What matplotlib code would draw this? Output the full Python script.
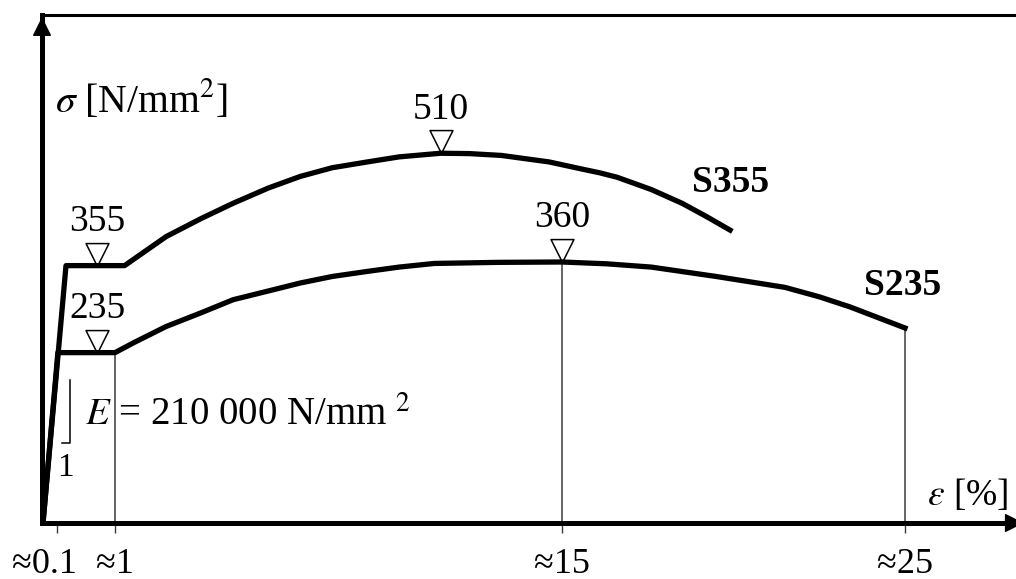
"""Stress-strain diagram for structural steels S235 and S355."""

import matplotlib.pyplot as plt
import numpy as np

plt.rcParams["font.family"] = ["Liberation Serif", "DejaVu Serif"]
plt.rcParams["mathtext.fontset"] = "stix"

# curve readings: strain in %, stress in N/mm2
S355_STRAIN = [0.0, 0.17, 1.3, 2.6, 3.7, 4.7, 5.8, 6.8, 7.8, 8.9, 9.9, 11.2,
               12.1, 13.1, 14.6, 15.6, 16.1, 16.6, 17.6, 18.5, 19.2, 19.9]
S355_STRESS = [0, 355, 355, 395, 420, 441, 462, 478, 490, 498, 505, 510,
               509.5, 507, 498, 488, 483, 477, 460, 441, 423, 404]

S235_STRAIN = [0.0, 0.11, 1.0, 1.6, 2.6, 3.7, 4.7, 5.8, 6.8, 7.8, 8.9, 9.9,
               11.0, 13.0, 15.0, 16.3, 17.6, 19.5, 21.5, 22.5, 23.4, 25.0]
S235_STRESS = [0, 235, 235, 249, 271, 290, 308, 320, 331, 340, 347, 353,
               358, 359.5, 360, 357.5, 353, 340, 325, 312, 298, 269]

# marked values (yield and tensile strength)
MARK_STRAIN = [0.7, 0.7, 11.2, 15.0]
MARK_STRESS = [355, 235, 510, 360]
MARK_LABELS = ["355", "235", "510", "360"]

# x ticks and the guide lines dropped from the S235 curve
TICK_STRAIN = [0.1, 1, 15, 25]
TICK_LABELS = ["≈0.1", "≈1", "≈15", "≈25"]
GUIDE_STRAIN = [1, 15, 25]

# schematic strain axis: elastic part stretched, rest roughly linear
STRAIN_NODES = [-1.0, 0.0, 0.17, 1.0, 15.0, 25.0, 40.0]
SCALE_NODES = [-92.0, 43.0, 66.0, 115.0, 562.0, 905.0, 1419.5]


def forward(x):
    return np.interp(x, STRAIN_NODES, SCALE_NODES)


def inverse(u):
    return np.interp(u, SCALE_NODES, STRAIN_NODES)


def main() -> None:
    fig = plt.figure(figsize=(10.16, 5.79), dpi=100)
    ax = fig.add_axes([42 / 1016, 56 / 579, 974 / 1016, 508 / 579])
    ax.set_xscale("function", functions=(forward, inverse))
    ax.set_xlim(inverse(42), inverse(1016))
    ax.set_ylim(0, 508 / 0.725)

    # curves
    ax.plot(S355_STRAIN, S355_STRESS, color="black", lw=3.8, zorder=3,
            solid_joinstyle="round")
    ax.plot(S235_STRAIN, S235_STRESS, color="black", lw=3.8, zorder=3,
            solid_joinstyle="round")

    # guide lines
    guide_stress = np.interp(GUIDE_STRAIN, S235_STRAIN, S235_STRESS)
    ax.vlines(GUIDE_STRAIN, 0, guide_stress, color="#3a3a3a", lw=1.1, zorder=2)

    # open triangles with their values
    tri = [(0, 0), (-0.5, 1), (0.5, 1), (0, 0)]
    ax.plot(MARK_STRAIN, MARK_STRESS, linestyle="none", marker=tri,
            markersize=33, markerfacecolor="white", markeredgecolor="black",
            markeredgewidth=1.1, zorder=2)
    for s, v, lab in zip(MARK_STRAIN, MARK_STRESS, MARK_LABELS):
        ax.annotate(lab, xy=(s, v), xytext=(0, 25), textcoords="offset points",
                    ha="center", va="baseline", fontsize=27)

    # slope mark for the elastic modulus
    ax.plot([0.14, 0.24, 0.24], [110, 110, 197], color="black", lw=1.1)
    ax.text(0.165, 76, "1", ha="center", va="center", fontsize=24)
    ax.text(0.49, 135, r"$E$ = 210 000 N/mm $^2$", fontsize=28, va="baseline")

    # steel grades
    ax.text(18.8, 456, "S355", fontsize=27, fontweight="bold", va="baseline")
    ax.text(23.8, 314, "S235", fontsize=27, fontweight="bold", va="baseline")

    # axis titles
    ax.text(0.0133, 0.809, r"$\sigma$ [N/mm$^2$]", transform=ax.transAxes,
            fontsize=28.5, va="baseline")
    ax.text(0.992, 0.035, r"$\varepsilon$ [%]", transform=ax.transAxes,
            fontsize=27, ha="right", va="baseline")

    # axes frame
    ax.spines["right"].set_visible(False)
    ax.spines["top"].set_linewidth(2.2)
    ax.spines["left"].set_linewidth(3.6)
    ax.spines["bottom"].set_linewidth(3.6)
    ax.set_yticks([])
    ax.xaxis.set_minor_locator(plt.NullLocator())
    ax.set_xticks(TICK_STRAIN, labels=[""] + TICK_LABELS[1:])
    ax.tick_params(axis="x", direction="out", length=7, width=1.0, pad=11,
                   labelsize=26, color="#3a3a3a")
    ax.annotate(TICK_LABELS[0], xy=(TICK_STRAIN[0], 0),
                xycoords=("data", "axes fraction"), xytext=(-9, -18),
                textcoords="offset points", ha="center", va="top",
                fontsize=26, annotation_clip=False)

    arrow = dict(arrowstyle="-|>", color="black", lw=1.0, mutation_scale=30,
                 shrinkA=0, shrinkB=0)
    ax.annotate("", xy=(0, 0.996), xycoords="axes fraction",
                xytext=(0, 0.9), arrowprops=arrow)
    ax.annotate("", xy=(1.008, 0), xycoords="axes fraction",
                xytext=(0.95, 0), arrowprops=arrow, annotation_clip=False)

    fig.savefig("out.png", dpi=100)
    plt.close(fig)


if __name__ == "__main__":
    main()
